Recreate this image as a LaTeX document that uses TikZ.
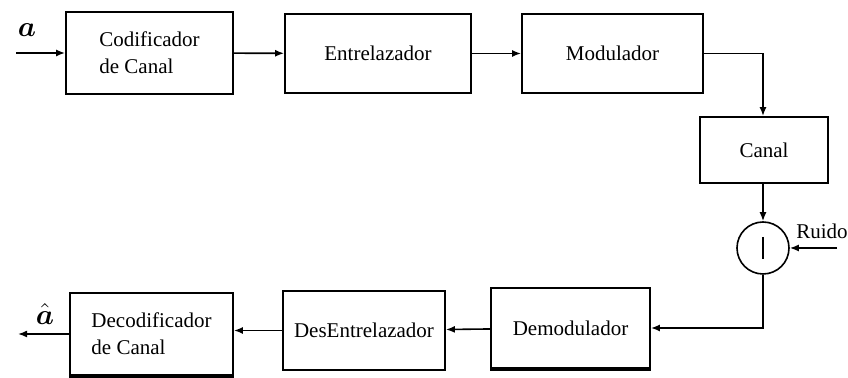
\documentclass[tikz,border=0pt]{standalone}
\usepackage{fontspec}
\setmainfont{Liberation Serif}
\usepackage{bm}
\usetikzlibrary{arrows.meta}

\begin{document}
\begin{tikzpicture}[
    x=0.5pt, y=-0.5pt,
    bloque/.style={draw, line width=0.9pt, align=left, inner sep=0pt,
        font=\fontsize{10.5}{13.5}\selectfont},
    sumador/.style={circle, draw, line width=0.8pt, minimum size=26pt, inner sep=0pt},
    flecha/.style={-{Latex[length=4.5pt, width=3.5pt]}, line width=0.8pt},
    base/.style={line width=2.2pt}
]
    \useasboundingbox (0,0) rectangle (848,378);

    % Fila superior: transmisor
    \node[bloque, minimum width=83.5pt, minimum height=41pt] (cod) at (149.5,53) {Codificador\\de Canal};
    \node[bloque, minimum width=93pt, minimum height=39.5pt] (ent) at (378,53.5) {Entrelazador};
    \node[bloque, minimum width=90.5pt, minimum height=39.5pt] (mod) at (612.5,53.5) {Modulador};

    % Canal y sumador de ruido
    \node[bloque, minimum width=64pt, minimum height=33pt] (can) at (764,150) {Canal};
    \node[sumador] (sum) at (763,248) {};
    \draw[line width=0.8pt] (sum.center) ++(0,-11) -- ++(0,22);
    \node[font=\fontsize{10.5}{12}\selectfont] (ruido) at (822,231) {Ruido};
    \coordinate (r0) at (837,248);

    % Fila inferior: receptor
    \node[bloque, minimum width=79.5pt, minimum height=40pt] (dem) at (570.5,328) {Demodulador};
    \node[bloque, minimum width=81pt, minimum height=39.5pt] (des) at (364,330.5) {DesEntrelazador};
    \node[bloque, minimum width=81.5pt, minimum height=41pt] (dec) at (151.5,334) {Decodificador\\de Canal};
    \draw[base] (dem.south west) -- (dem.south east);
    \draw[base] (dec.south west) -- (dec.south east);

    % Entrada y salida
    \coordinate (ent0) at (16,53);
    \coordinate (sal0) at (18,334);
    \node[font=\Large] (a) at (27,30) {$\bm{a}$};
    \node[font=\Large] (ah) at (45,314) {$\bm{\hat{a}}$};

    % Conexiones
    \draw[flecha] (ent0) -- (cod);
    \draw[flecha] (cod) -- (ent);
    \draw[flecha] (ent) -- (mod);
    \draw[flecha] (mod.east) -| (can.north -| sum);
    \draw[flecha] (can.south -| sum) -- (sum);
    \draw[flecha] (r0) -- (sum);
    \draw[flecha] (sum) |- (dem.east);
    \draw[flecha] (dem) -- (des);
    \draw[flecha] (des.west) -- (dec.east |- des.west);
    \draw[flecha] (dec.west) -- (sal0);

\end{tikzpicture}
\end{document}
